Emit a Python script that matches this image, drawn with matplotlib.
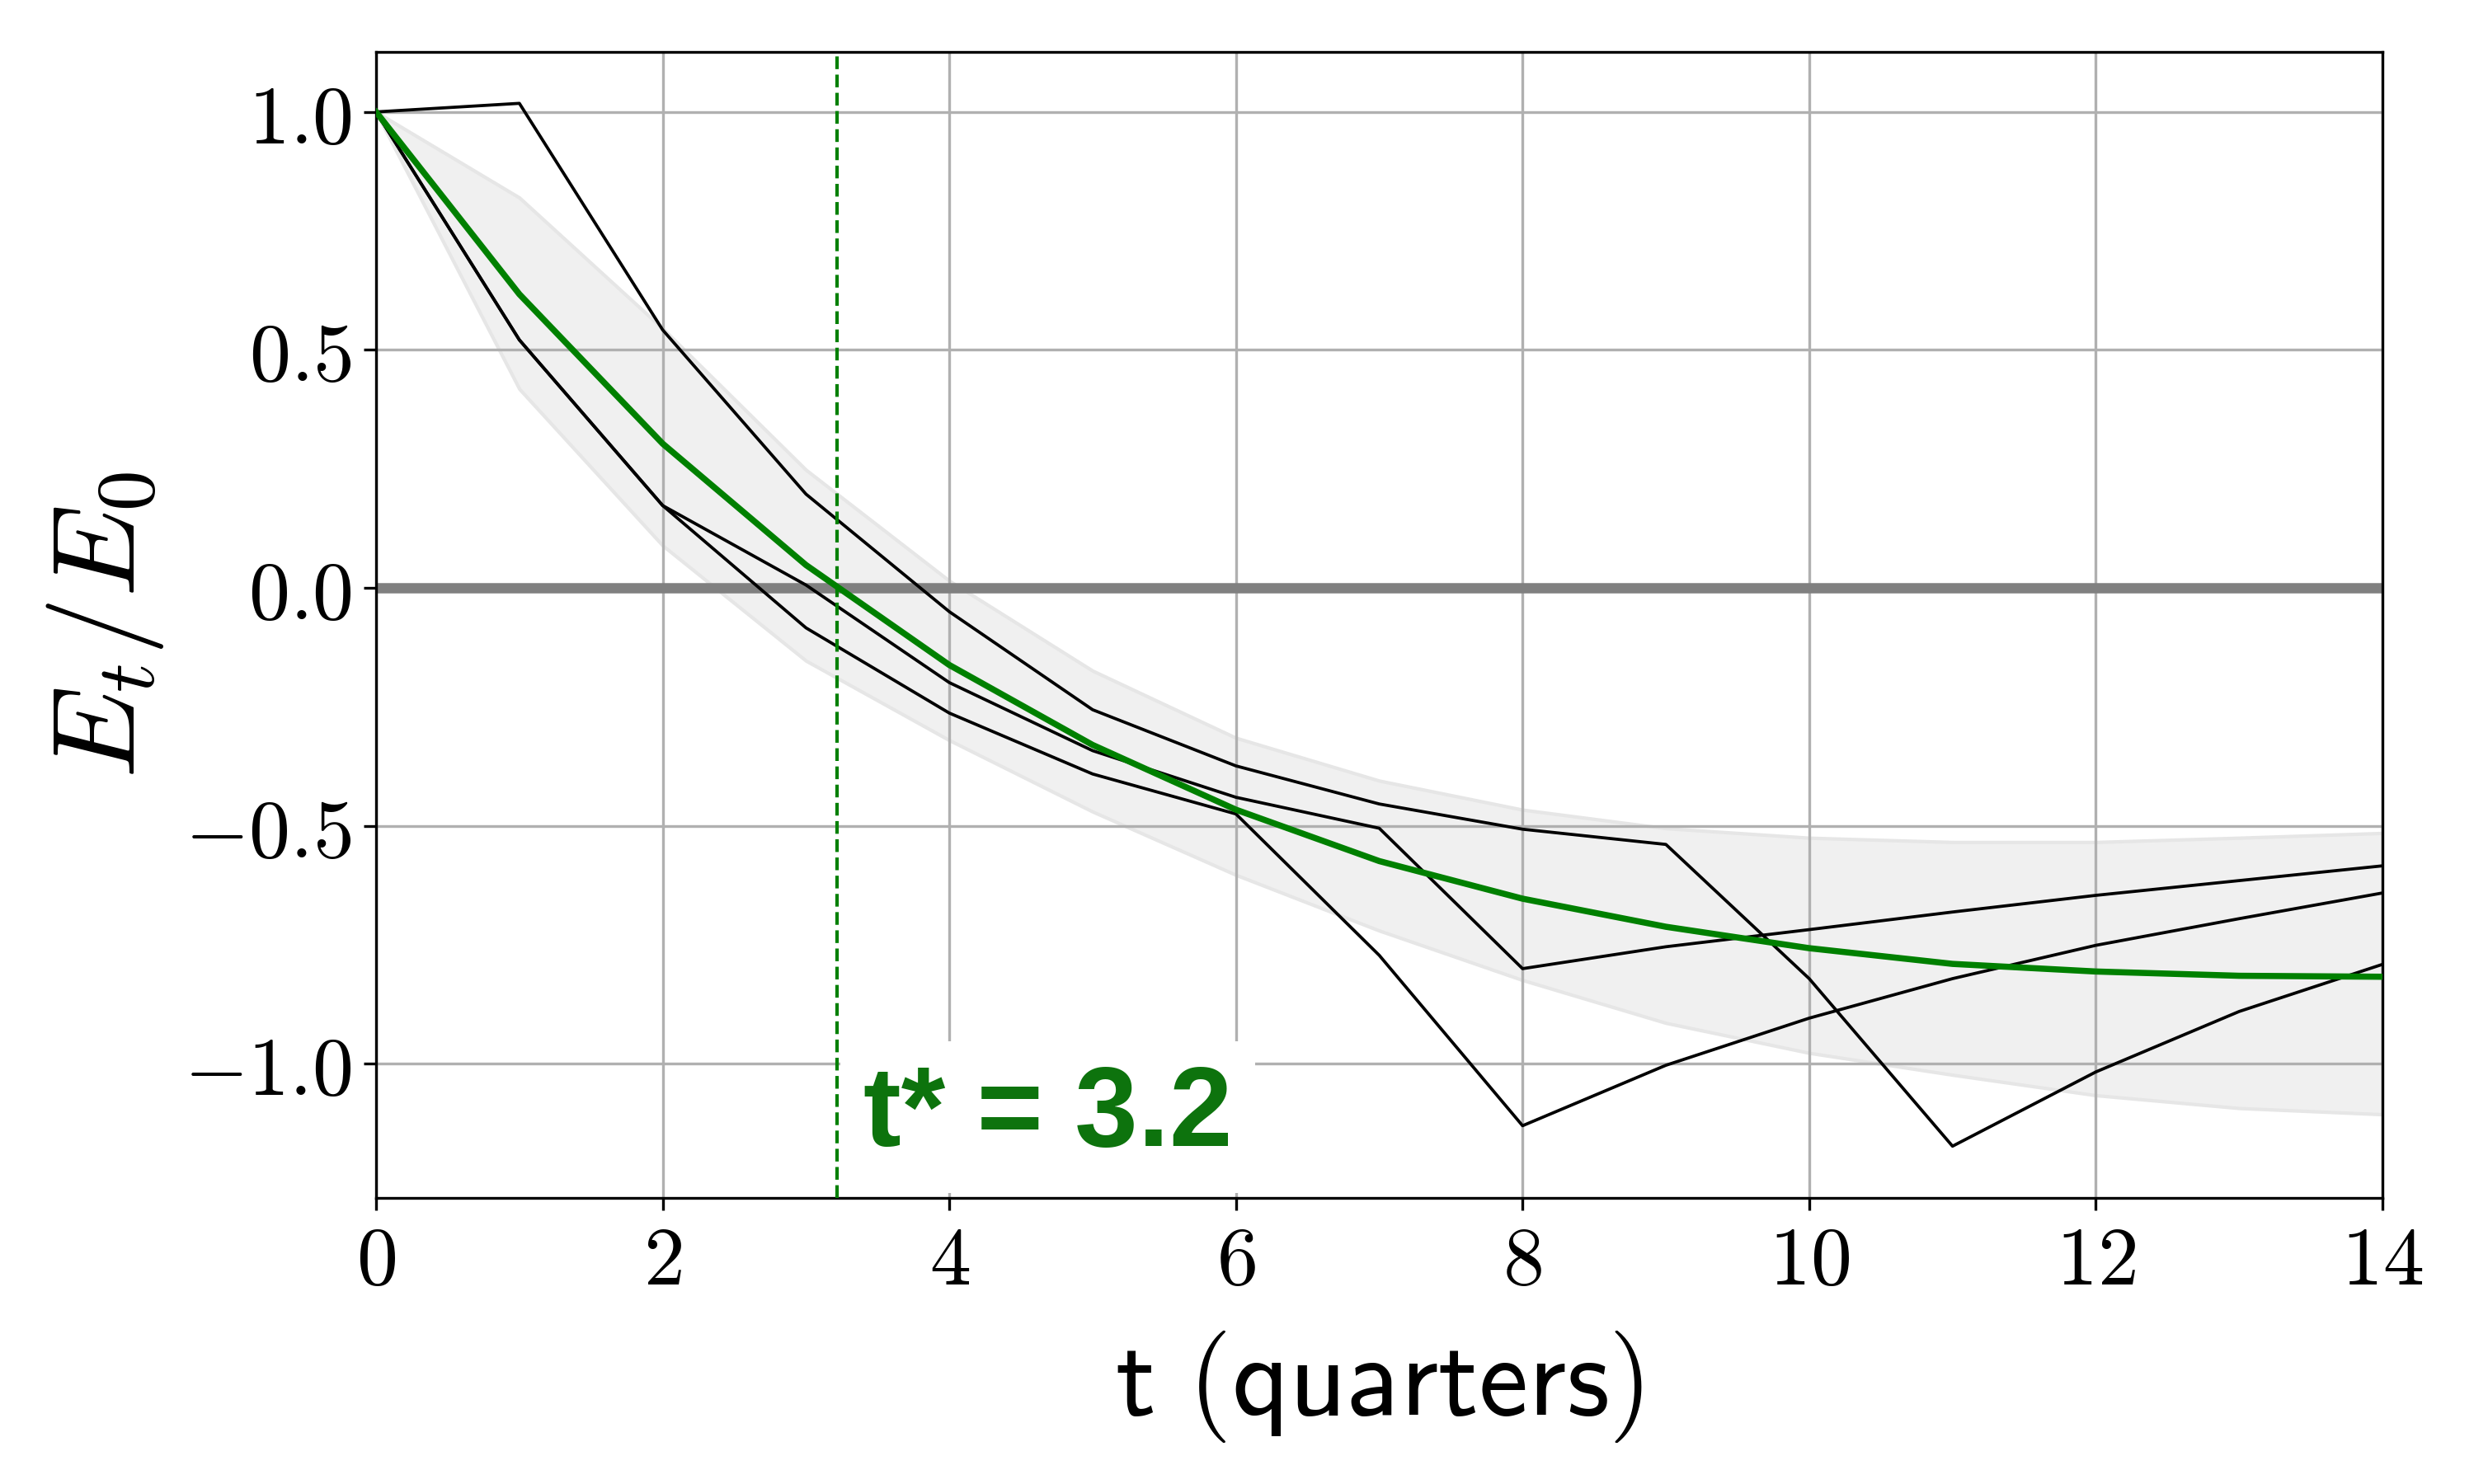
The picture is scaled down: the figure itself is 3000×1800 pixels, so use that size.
import numpy as np
import matplotlib
matplotlib.use("Agg")
import matplotlib.pyplot as plt
from matplotlib.ticker import FuncFormatter

plt.rcParams['mathtext.fontset'] = 'cm'

# quarters after the shock
t = np.arange(0, 15)

# mean response (green) and its band
mean_resp = [1.0, 0.617, 0.303, 0.048, -0.162, -0.33, -0.466, -0.574, -0.653,
             -0.712, -0.757, -0.79, -0.806, -0.815, -0.817]
band_hi = [1.0, 0.82, 0.545, 0.248, 0.015, -0.174, -0.315, -0.405, -0.466,
           -0.505, -0.525, -0.534, -0.534, -0.525, -0.515]
band_lo = [1.0, 0.418, 0.089, -0.153, -0.32, -0.47, -0.603, -0.72, -0.824,
           -0.914, -0.977, -1.023, -1.066, -1.093, -1.106]

# individual paths (black)
path_a = [1.0, 1.018, 0.542, 0.197, -0.05, -0.256, -0.374, -0.454, -0.507,
          -0.539, -0.821, -1.173, -1.017, -0.89, -0.791]
path_b = [1.0, 0.521, 0.173, 0.006, -0.199, -0.342, -0.44, -0.505, -0.80,
          -0.754, -0.718, -0.681, -0.646, -0.615, -0.584]
path_c = [1.0, 0.521, 0.173, -0.084, -0.263, -0.391, -0.475, -0.772, -1.13,
          -1.003, -0.904, -0.821, -0.751, -0.695, -0.641]

t_star = 3.2
x_ticks = [0, 2, 4, 6, 8, 10, 12, 14]
y_ticks = [-1.0, -0.5, 0.0, 0.5, 1.0]

fig = plt.figure(figsize=(10, 6), dpi=300)
ax = fig.add_axes([0.152, 0.193, 0.811, 0.772])

ax.fill_between(t, band_lo, band_hi, facecolor='#f0f0f0', edgecolor='#e6e6e6', lw=1, zorder=1)
ax.axhline(0, color='gray', lw=3, zorder=2)
for p in (path_a, path_b, path_c):
    ax.plot(t, p, color='black', lw=0.9, zorder=3)
ax.plot(t, mean_resp, color='green', lw=1.8, zorder=4)
ax.axvline(t_star + 0.015, color='green', lw=1, ls='--', zorder=4)

ax.text(t_star + 0.2, -1.173, 't* = %.1f' % t_star, color='#0d730d', fontsize=33,
        family='Liberation Sans', weight='bold', ha='left', va='baseline', zorder=5,
        bbox=dict(boxstyle='square,pad=0.2', facecolor='white', edgecolor='none'))

ax.set_xlim(0, 14)
ax.set_ylim(-1.281, 1.126)
ax.set_xticks(x_ticks)
ax.set_yticks(y_ticks)
ax.xaxis.set_major_formatter(FuncFormatter(lambda v, pos: '$%d$' % v))
ax.yaxis.set_major_formatter(FuncFormatter(lambda v, pos: '$%.1f$' % v))
ax.tick_params(labelsize=24)
ax.grid(True, color='#b0b0b0', lw=0.8)

ax.set_xlabel(r'$\mathsf{t\ (quarters)}$', fontsize=32.5, labelpad=8)
ax.set_ylabel(r'$E_t/E_0$', fontsize=34, labelpad=5.5)

fig.savefig('out.png', dpi=300)
